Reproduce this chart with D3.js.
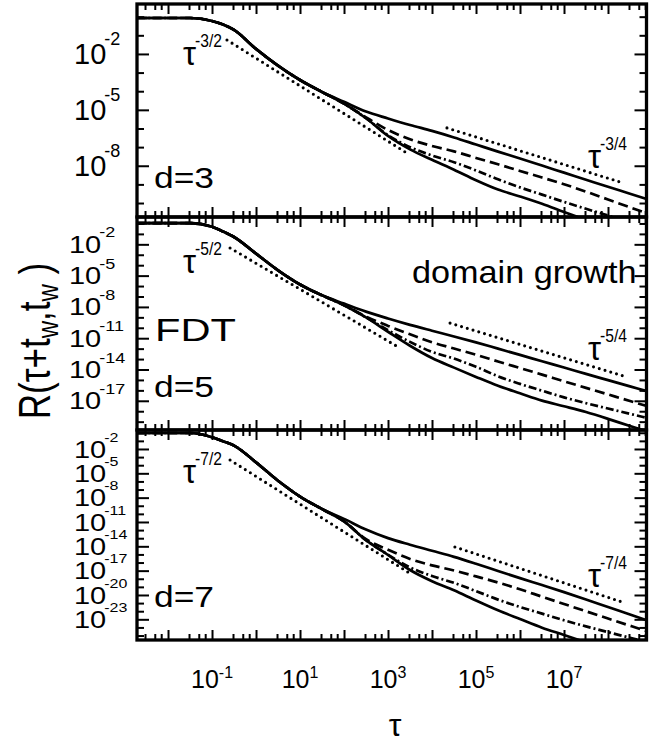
<!DOCTYPE html>
<html>
<head>
<meta charset="utf-8">
<script src="https://cdn.jsdelivr.net/npm/d3@7"></script>
<style>
  body { margin: 0; background: #fff; }
  svg { display: block; }
  text { font-family: "Liberation Sans", Arial, Helvetica, sans-serif; fill: #000; }
</style>
</head>
<body>
<svg id="chart" width="662" height="743"></svg>
<script>
// log10(tau) where the curves were read
const tauEarly = [-2.7, -1.5, -1.0, -0.75, -0.5, 0, 0.5, 1, 1.5];
const tauLate = [2, 2.5, 3, 3.5, 4, 4.5, 5, 5.5, 6, 6.5, 7, 7.5, 8, 8.5, 8.9];

// d = 3 : log10 R, shared part then the four waiting times
const dim3Early = [-0.07, -0.07, -0.23, -0.42, -0.71, -1.73, -2.63, -3.40, -4.04];
const dim3Upper = [-4.57, -5.09, -5.46, -5.81, -6.13, -6.48, -6.86, -7.24, -7.61, -7.99, -8.37, -8.75, -9.13, -9.50, -9.80];
const dim3Dashed = [-4.66, -5.40, -6.08, -6.58, -6.94, -7.23, -7.58, -7.92, -8.28, -8.63, -8.99, -9.39, -9.81, -10.23, -10.57];
const dim3DashDot = [-4.67, -5.45, -6.36, -7.00, -7.45, -7.81, -8.25, -8.73, -9.16, -9.55, -9.94, -10.31, -10.67, -11.02];
const dim3Lower = [-4.67, -5.45, -6.40, -7.12, -7.68, -8.21, -8.78, -9.28, -9.65, -10.04, -10.48, -10.91];
const dim3Guides = [[[-0.66, -1.25], [3.39, -7.26]], [[4.34, -5.97], [8.34, -8.92]]];
const dim3Range = [-10.75, 0.68];
const dim3Ticks = [-2, -5, -8];

// d = 5
const dim5Early = [0.04, 0.04, -0.32, -0.77, -1.30, -2.89, -4.49, -5.85, -6.89];
const dim5Upper = [-7.68, -8.45, -9.11, -9.72, -10.28, -10.83, -11.40, -12.00, -12.60, -13.21, -13.81, -14.42, -15.02, -15.62, -16.10];
const dim5Dashed = [-7.82, -8.92, -9.82, -10.63, -11.39, -11.99, -12.59, -13.23, -13.86, -14.49, -15.13, -15.76, -16.39, -17.02, -17.53];
const dim5DashDot = [-7.84, -9.01, -10.23, -11.35, -12.31, -12.95, -13.74, -14.65, -15.38, -16.03, -16.67, -17.23, -17.74, -18.25, -18.66];
const dim5Lower = [-7.84, -9.01, -10.38, -11.72, -12.90, -13.82, -14.71, -15.56, -16.28, -16.98, -17.52, -18.08, -18.73, -19.42, -19.95];
const dim5Guides = [[[-0.59, -2.35], [3.27, -11.94]], [[4.41, -9.55], [8.43, -14.72]]];
const dim5Range = [-19.8, 0.62];
const dim5Ticks = [-2, -5, -8, -11, -14, -17];

// d = 7
const dim7Early = [-0.03, -0.03, -0.55, -1.04, -1.58, -3.65, -5.91, -7.86, -9.40];
const dim7Upper = [-10.62, -11.93, -12.99, -13.80, -14.55, -15.30, -16.15, -17.04, -17.92, -18.78, -19.65, -20.55, -21.49, -22.41, -23.16];
const dim7Dashed = [-10.92, -13.13, -14.42, -15.56, -16.35, -16.98, -17.71, -18.46, -19.30, -20.21, -21.11, -22.01, -22.90, -23.79, -24.50];
const dim7DashDot = [-10.93, -13.24, -15.03, -16.60, -17.66, -18.51, -19.52, -20.57, -21.48, -22.30, -23.12, -23.87, -24.58, -25.28, -25.85];
const dim7Lower = [-10.93, -13.24, -15.07, -16.92, -18.30, -19.42, -20.68, -21.89, -22.97, -24.03, -24.93, -25.85];
const dim7Guides = [[[-0.59, -3.36], [3.45, -17.17]], [[4.52, -14.08], [8.39, -20.99]]];
const dim7Range = [-25.55, 0.34];
const dim7Ticks = [-2, -5, -8, -11, -14, -17, -20, -23];

const xLabelExps = [-1, 1, 3, 5, 7];
const xRange = [-2.705, 8.875];

// Layout
const left = 137, right = 646.5;
const curveDash = [null, "10,5", "8,3,2,3", null];

const panels = [
    { top: 4, bottom: 217, range: dim3Range, early: dim3Early, curves: [dim3Upper, dim3Dashed, dim3DashDot, dim3Lower],
      guides: dim3Guides, ticks: dim3Ticks, name: "d=3", nameY: 188, labelX: 74, sy: 1.0, sup: 18,
      fast: "-3/2", fastY: 65, slow: "-3/4", slowY: 168 },
    { top: 217, bottom: 430, range: dim5Range, early: dim5Early, curves: [dim5Upper, dim5Dashed, dim5DashDot, dim5Lower],
      guides: dim5Guides, ticks: dim5Ticks, name: "d=5", nameY: 397, labelX: 69, sy: 0.8, sup: 18,
      fast: "-5/2", fastY: 273, slow: "-5/4", slowY: 360 },
    { top: 430, bottom: 640, range: dim7Range, early: dim7Early, curves: [dim7Upper, dim7Dashed, dim7DashDot, dim7Lower],
      guides: dim7Guides, ticks: dim7Ticks, name: "d=7", nameY: 607, labelX: 74, sy: 0.84, sup: 16,
      fast: "-7/2", fastY: 483, slow: "-7/4", slowY: 587 },
];

const svg = d3.select("#chart");
const x = d3.scaleLog().domain(xRange.map(v => 10 ** v)).range([left, right]);

const xMajor = d3.range(-2, 9).map(k => 10 ** k);
const xMinor = [];
d3.range(-3, 9).forEach(k => [3, 5, 7].forEach(m => {
    const v = m * 10 ** k;
    if (v > x.domain()[0] && v < x.domain()[1]) xMinor.push(v);
}));

function dropDomain(g) { g.select(".domain").remove(); g.selectAll("line").attr("stroke", "#000").attr("stroke-width", 2); }

// text stretched sideways, as in the original figure
function wideText(tx, ty, size, sx, str) {
    return svg.append("text")
        .attr("transform", `translate(${tx},${ty}) scale(${sx},1)`)
        .style("font-size", size + "px")
        .text(str);
}

panels.forEach((p, idx) => {
    const y = d3.scaleLog().domain(p.range.map(v => 10 ** v)).range([p.bottom, p.top]);
    const g = svg.append("g");

    const clipId = "clip" + idx;
    svg.append("clipPath").attr("id", clipId)
        .append("rect").attr("x", left).attr("y", p.top).attr("width", right - left).attr("height", p.bottom - p.top);

    const plot = g.append("g").attr("clip-path", `url(#${clipId})`);

    const line = d3.line()
        .x(d => x(10 ** d[0]))
        .y(d => y(10 ** d[1]))
        .curve(d3.curveMonotoneX);

    p.curves.forEach((c, i) => {
        const pts = tauEarly.map((t, j) => [t, p.early[j]])
            .concat(c.map((v, j) => [tauLate[j], v]));
        plot.append("path")
            .attr("d", line(pts))
            .attr("fill", "none")
            .attr("stroke", "#000")
            .attr("stroke-width", 2.7)
            .attr("stroke-dasharray", curveDash[i]);
    });

    p.guides.forEach(gd => {
        plot.append("path")
            .attr("d", d3.line().x(d => x(10 ** d[0])).y(d => y(10 ** d[1]))(gd))
            .attr("fill", "none")
            .attr("stroke", "#000")
            .attr("stroke-width", 3.1)
            .attr("stroke-linecap", "round")
            .attr("stroke-dasharray", "0,6");
    });

    // ticks, all pointing inward
    g.append("g").attr("transform", `translate(0,${p.bottom})`)
        .call(d3.axisBottom(x).tickValues(xMajor).tickSize(-10).tickFormat("")).call(dropDomain);
    g.append("g").attr("transform", `translate(0,${p.bottom})`)
        .call(d3.axisBottom(x).tickValues(xMinor).tickSize(-6).tickFormat("")).call(dropDomain);
    g.append("g").attr("transform", `translate(0,${p.top})`)
        .call(d3.axisTop(x).tickValues(xMajor).tickSize(-10).tickFormat("")).call(dropDomain);
    g.append("g").attr("transform", `translate(0,${p.top})`)
        .call(d3.axisTop(x).tickValues(xMinor).tickSize(-6).tickFormat("")).call(dropDomain);

    const decades = d3.range(Math.ceil(p.range[0]), Math.floor(p.range[1]) + 1);
    const yMajor = p.ticks.map(k => 10 ** k);
    const yMinor = decades.filter(k => !p.ticks.includes(k)).map(k => 10 ** k);
    g.append("g").attr("transform", `translate(${left},0)`)
        .call(d3.axisLeft(y).tickValues(yMajor).tickSize(-12).tickFormat("")).call(dropDomain);
    g.append("g").attr("transform", `translate(${left},0)`)
        .call(d3.axisLeft(y).tickValues(yMinor).tickSize(-7).tickFormat("")).call(dropDomain);
    g.append("g").attr("transform", `translate(${right},0)`)
        .call(d3.axisRight(y).tickValues(yMajor).tickSize(-12).tickFormat("")).call(dropDomain);
    g.append("g").attr("transform", `translate(${right},0)`)
        .call(d3.axisRight(y).tickValues(yMinor).tickSize(-7).tickFormat("")).call(dropDomain);

    // frame
    g.append("rect")
        .attr("x", left).attr("y", p.top)
        .attr("width", right - left).attr("height", p.bottom - p.top)
        .attr("fill", "none").attr("stroke", "#000").attr("stroke-width", 3.3);

    // y tick labels
    p.ticks.forEach(k => {
        const base = y(10 ** k) + 0.716 * 29 * p.sy / 2;
        const t = svg.append("text")
            .attr("transform", `translate(${p.labelX},${base}) scale(1,${p.sy})`)
            .style("font-size", "29px");
        t.append("tspan").text("10");
        t.append("tspan").attr("dx", -2).attr("dy", -19).style("font-size", p.sup + "px").text(k);
    });

    // panel name
    wideText(154, p.nameY, 30, 1.18, p.name);

    // power-law labels
    const powLabel = (tx, by, exp) => {
        svg.append("text").attr("x", tx).attr("y", by).style("font-size", "33px").text("τ");
        svg.append("text").attr("x", tx + 12).attr("y", by - 18)
            .attr("textLength", 27).attr("lengthAdjust", "spacingAndGlyphs")
            .style("font-size", "19px").text(exp);
    };
    powLabel(183, p.fastY, p.fast);
    powLabel(588, p.slowY, p.slow);
});

// extra labels in the middle panel
wideText(412, 283, 32, 1.07, "domain growth");
wideText(155, 341, 32, 1.3, "FDT");

// x tick labels
xLabelExps.forEach(k => {
    const t = svg.append("text")
        .attr("x", x(10 ** k)).attr("y", 688)
        .attr("text-anchor", "middle")
        .style("font-size", "25px");
    t.append("tspan").text("10");
    t.append("tspan").attr("dy", -10).style("font-size", "16px").text(k);
});

// axis titles
svg.append("text").attr("x", 395).attr("y", 736)
    .attr("text-anchor", "middle").style("font-size", "32px").text("τ");

const yTitle = svg.append("text")
    .attr("transform", "translate(50,341) rotate(-90) scale(1,1.25)")
    .attr("text-anchor", "middle")
    .style("font-size", "35px");
yTitle.append("tspan").text("R(τ+t");
yTitle.append("tspan").attr("dy", 6).style("font-size", "24px").text("w");
yTitle.append("tspan").attr("dy", -6).text(",t");
yTitle.append("tspan").attr("dy", 6).style("font-size", "24px").text("w");
yTitle.append("tspan").attr("dy", -6).text(" )");
</script>
</body>
</html>
